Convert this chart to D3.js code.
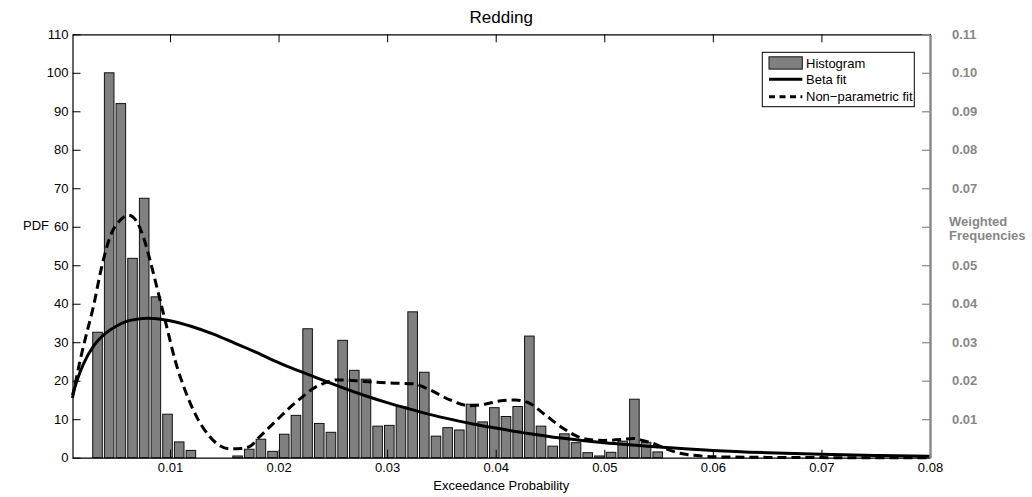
<!DOCTYPE html>
<html>
<head>
<meta charset="utf-8">
<script src="https://cdn.jsdelivr.net/npm/d3@7"></script>
<style>
  html, body { margin: 0; padding: 0; background: #fff; }
  svg { display: block; font-family: "Liberation Sans", Arial, Helvetica, sans-serif; }
</style>
</head>
<body>
<svg id="chart" width="1032" height="497"></svg>
<script>
// ---- Data ----------------------------------------------------------------
const title = "Redding";
const xLabel = "Exceedance Probability";
const yLabel = "PDF";
const yRightLabel = ["Weighted", "Frequencies"];

// Histogram: regular bins starting at binStart, heights in PDF units
const binStart = 0.002786;
const binWidth = 0.001075;
const histPdf = [
  32.6, 100, 92.0, 51.8, 67.4, 41.8, 11.3, 4.1, 1.9, 0, 0, 0,
  0.45, 2.2, 4.8, 1.65, 6.1, 11.0, 33.5, 8.9, 6.6, 30.5, 22.7, 20.4,
  8.2, 8.4, 13.3, 37.9, 22.2, 5.6, 7.8, 7.2, 13.9, 9.3, 13.0, 10.7,
  13.3, 31.6, 8.2, 3.0, 6.2, 3.9, 1.3, 0.45, 1.4, 4.3, 15.2, 4.0, 1.5
];

// Beta fit curve (x, pdf)
const betaX = [0.00102, 0.0015, 0.002, 0.003, 0.004, 0.005, 0.006, 0.007, 0.008, 0.009,
  0.010, 0.012, 0.014, 0.016, 0.018, 0.020, 0.022, 0.024, 0.026, 0.028, 0.030, 0.032,
  0.034, 0.036, 0.038, 0.040, 0.043, 0.046, 0.050, 0.055, 0.060, 0.065, 0.070, 0.075, 0.080];
const betaY = [16.3, 20.6, 24.2, 29.2, 32.2, 34.1, 35.4, 36.0, 36.2, 36.05,
  35.6, 34.1, 32.1, 29.7, 27.3, 24.7, 22.4, 20.2, 18.1, 16.1, 14.3, 12.7,
  11.2, 9.9, 8.7, 7.7, 6.3, 5.1, 3.9, 2.8, 1.9, 1.3, 0.9, 0.6, 0.35];

// Non-parametric (kernel) fit curve (x, pdf)
const npX = [0.00102, 0.0017, 0.00217, 0.00294, 0.00371, 0.00448, 0.0054, 0.0062, 0.0069,
  0.00754, 0.00816, 0.00893, 0.0097, 0.01046, 0.01138, 0.01246, 0.01369, 0.0145, 0.0155,
  0.0166, 0.0174, 0.0182, 0.0189, 0.0200, 0.0211, 0.0222, 0.0232, 0.02436, 0.02536, 0.0265,
  0.0275, 0.0290, 0.03027, 0.03241, 0.03395, 0.03579, 0.03763, 0.0390, 0.0405, 0.0418,
  0.0430, 0.04439, 0.04623, 0.04807, 0.04991, 0.0515, 0.0527, 0.0536, 0.05452, 0.0557,
  0.05698, 0.0585, 0.06004, 0.065, 0.070, 0.080];
const npY = [15.5, 25.0, 30.6, 39.2, 49.6, 57.4, 61.7, 63.0, 61.5,
  57.4, 51.3, 42.7, 34.0, 25.4, 17.6, 10.6, 5.4, 3.3, 2.3,
  2.4, 3.0, 5.3, 7.2, 10.2, 13.2, 15.8, 18.0, 19.5, 20.2, 20.1,
  19.9, 19.6, 19.4, 19.2, 17.6, 15.0, 13.5, 13.9, 14.8, 15.0,
  14.3, 11.5, 7.6, 5.0, 4.5, 4.7, 5.0, 4.4, 3.7, 2.3,
  1.15, 0.55, 0.26, 0.08, 0.02, 0.0];

// Axis ticks
const xTicks = [0.01, 0.02, 0.03, 0.04, 0.05, 0.06, 0.07, 0.08];
const yTicks = [0, 10, 20, 30, 40, 50, 60, 70, 80, 90, 100, 110];
const yRightTicks = [0.01, 0.02, 0.03, 0.04, 0.05, 0.06, 0.07, 0.08, 0.09, 0.10, 0.11];
const yRightHidden = [0.06]; // label slot occupied by the axis title

const legendItems = ["Histogram", "Beta fit", "Non\u2212parametric fit"];

// ---- Layout ----------------------------------------------------------------
const plot = { left: 72.5, right: 930, top: 34.3, bottom: 457.7 };
const barColor = "#808080";
const rightAxisColor = "#878787";
const fontSize = 13;

const svg = d3.select("#chart");

const x = d3.scaleLinear().domain([0.00102, 0.08]).range([plot.left, plot.right]);
const y = d3.scaleLinear().domain([0, 110]).range([plot.bottom, plot.top]);
const yR = d3.scaleLinear().domain([0, 0.11]).range([plot.bottom, plot.top]);

// ---- Histogram bars ----------------------------------------------------------
const bars = histPdf.map((v, i) => ({
  x0: binStart + i * binWidth,
  x1: binStart + (i + 1) * binWidth,
  v
})).filter(d => d.v > 0);
const barFrac = 0.82;

svg.append("g").selectAll("rect").data(bars).join("rect")
  .attr("x", d => {
    const c = (x(d.x0) + x(d.x1)) / 2, w = (x(d.x1) - x(d.x0)) * barFrac;
    return c - w / 2;
  })
  .attr("width", d => (x(d.x1) - x(d.x0)) * barFrac)
  .attr("y", d => y(d.v))
  .attr("height", d => y(0) - y(d.v))
  .attr("fill", barColor)
  .attr("stroke", "#111")
  .attr("stroke-width", 1);

// ---- Fitted curves -----------------------------------------------------------
const line = d3.line().x(d => x(d[0])).y(d => y(d[1])).curve(d3.curveMonotoneX);

svg.append("path")
  .datum(betaX.map((v, i) => [v, betaY[i]]))
  .attr("d", line)
  .attr("fill", "none")
  .attr("stroke", "#000")
  .attr("stroke-width", 3);

svg.append("path")
  .datum(npX.map((v, i) => [v, npY[i]]))
  .attr("d", line)
  .attr("fill", "none")
  .attr("stroke", "#000")
  .attr("stroke-width", 3)
  .attr("stroke-dasharray", "9,5");

// ---- Axes --------------------------------------------------------------------
const fmtX = d3.format(".2f");

const gBottom = svg.append("g").attr("transform", `translate(0,${plot.bottom})`)
  .call(d3.axisBottom(x).tickValues(xTicks).tickFormat(fmtX)
    .tickSize(-8).tickSizeOuter(0).tickPadding(5));

const gTop = svg.append("g").attr("transform", `translate(0,${plot.top})`)
  .call(d3.axisTop(x).tickValues(xTicks).tickFormat("")
    .tickSize(-8).tickSizeOuter(0));

const gLeft = svg.append("g").attr("transform", `translate(${plot.left},0)`)
  .call(d3.axisLeft(y).tickValues(yTicks).tickFormat(d3.format("d"))
    .tickSize(-8).tickSizeOuter(0).tickPadding(4));

[gBottom, gTop, gLeft].forEach(g => {
  g.selectAll("text").attr("font-size", fontSize).attr("fill", "#000")
    .attr("font-family", "Liberation Sans, Arial, sans-serif");
  g.selectAll("line").attr("stroke", "#000");
  g.select(".domain").attr("stroke", "#000").attr("stroke-width", 1.2);
});

const gRight = svg.append("g").attr("transform", `translate(${plot.right},0)`)
  .call(d3.axisRight(yR).tickValues(yRightTicks)
    .tickFormat(d => yRightHidden.some(h => Math.abs(h - d) < 1e-9) ? "" : fmtX(d))
    .tickSize(-8).tickSizeOuter(0).tickPadding(22));
gRight.selectAll("text").attr("font-size", fontSize).attr("font-weight", "bold")
  .attr("fill", rightAxisColor).attr("font-family", "Liberation Sans, Arial, sans-serif");
gRight.selectAll("line").attr("stroke", rightAxisColor).attr("stroke-width", 1.2);
gRight.select(".domain").attr("stroke", rightAxisColor).attr("stroke-width", 2.4);

// ---- Titles and labels -------------------------------------------------------
svg.append("text")
  .attr("x", (plot.left + plot.right) / 2).attr("y", 22.7)
  .attr("text-anchor", "middle").attr("font-size", 17).text(title);

svg.append("text")
  .attr("x", (plot.left + plot.right) / 2).attr("y", 490)
  .attr("text-anchor", "middle").attr("font-size", fontSize).text(xLabel);

svg.append("text")
  .attr("x", 23).attr("y", 229.5)
  .attr("font-size", fontSize).text(yLabel);

const yrl = svg.append("text")
  .attr("x", 949).attr("font-size", fontSize).attr("font-weight", "bold")
  .attr("fill", rightAxisColor);
yrl.selectAll("tspan").data(yRightLabel).join("tspan")
  .attr("x", 949).attr("y", (d, i) => 225.5 + i * 14.5).text(d => d);

// ---- Legend ------------------------------------------------------------------
const lg = svg.append("g").attr("transform", "translate(762.3,52.3)");
lg.append("rect").attr("width", 152).attr("height", 54.4)
  .attr("fill", "#fff").attr("stroke", "#000").attr("stroke-width", 1);

const rowY = [10.7, 27.0, 44.4];
lg.append("rect").attr("x", 6.7).attr("y", rowY[0] - 6.2).attr("width", 33.3).attr("height", 12.3)
  .attr("fill", barColor).attr("stroke", "#111").attr("stroke-width", 1);
lg.append("line").attr("x1", 6.7).attr("x2", 40).attr("y1", rowY[1]).attr("y2", rowY[1])
  .attr("stroke", "#000").attr("stroke-width", 3);
lg.append("line").attr("x1", 6.7).attr("x2", 40).attr("y1", rowY[2]).attr("y2", rowY[2])
  .attr("stroke", "#000").attr("stroke-width", 3).attr("stroke-dasharray", "6,4.5");

lg.selectAll("text.item").data(legendItems).join("text")
  .attr("class", "item")
  .attr("x", 43.7).attr("y", (d, i) => rowY[i]).attr("dy", "0.35em")
  .attr("font-size", fontSize).text(d => d);
</script>
</body>
</html>
